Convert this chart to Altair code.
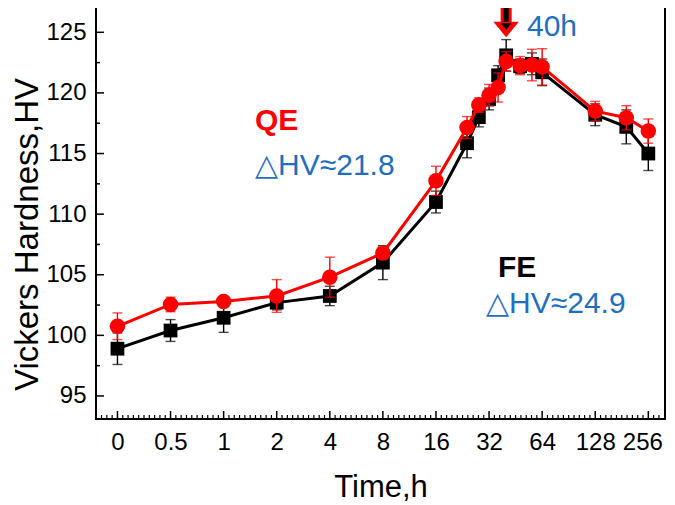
import altair as alt
import pandas as pd

# ---------------- data ----------------
time_h = [0, 0.5, 1, 2, 4, 8, 16, 24, 28, 32, 36, 40, 48, 56, 64, 128, 192, 256]
fe_hv = [98.9, 100.4, 101.45, 102.7, 103.25, 106.0, 111.0, 115.85, 118.0, 119.5,
         121.45, 123.1, 122.2, 122.4, 121.7, 118.2, 117.2, 115.0]
fe_err = [1.3, 0.9, 1.2, 0.6, 0.8, 1.4, 0.9, 1.2, 0.8, 0.9,
          0.8, 1.3, 0.6, 0.9, 1.1, 0.9, 1.4, 1.4]
qe_hv = [100.75, 102.55, 102.8, 103.25, 104.8, 106.8, 112.75, 117.15, 119.0, 119.8,
         120.45, 122.6, 122.25, 122.3, 122.15, 118.5, 117.95, 116.85]
qe_err = [1.1, 0.6, 0.3, 1.35, 1.65, 0.5, 1.2, 0.9, 0.6, 0.9,
          1.2, 0.8, 0.75, 1.3, 1.5, 0.8, 1.0, 1.0]

x_tick_labels = ['0', '0.5', '1', '2', '4', '8', '16', '32', '64', '128', '256']
y_major = [95, 100, 105, 110, 115, 120, 125]
y_minor = [97.5, 102.5, 107.5, 112.5, 117.5, 122.5]
peak_time = [40]

# ---------------- layout ----------------
W, H = 569, 417
FONT = "Liberation Sans, Arial, DejaVu Sans, sans-serif"
BLUE = "#1f6fc0"
RED = "#ff0000"

xscale = alt.Scale(domain=[-0.31, 10.22], nice=False, zero=False)
yscale = alt.Scale(domain=[93.1, 127.5], nice=False, zero=False)

last = len(x_tick_labels) - 1
label_expr = "[" + ",".join("'%s'" % s for s in x_tick_labels) + "][datum.value]"

x_axis = alt.Axis(values=list(range(len(x_tick_labels))), labelExpr=label_expr,
                  title="Time,h", ticks=False, tickSize=0, domain=False, grid=False,
                  labelFont=FONT, labelFontSize=24, labelColor="black",
                  labelPadding=30, labelBaseline="alphabetic", labelFlush=False,
                  labelOverlap=False,
                  labelOffset={"condition": {"test": "datum.value == %d" % last, "value": -6},
                               "value": 0},
                  titleFont=FONT, titleFontSize=31, titleFontWeight="normal",
                  titleColor="black", titleY=77, titleBaseline="alphabetic")
y_axis = alt.Axis(values=y_major, title="Vickers Hardness,HV", ticks=False, tickSize=0,
                  domain=False, grid=False,
                  labelFont=FONT, labelFontSize=24, labelColor="black", labelPadding=10,
                  labelFlush=False, labelOverlap=False,
                  titleFont=FONT, titleFontSize=33, titleFontWeight="normal",
                  titleColor="black", titleX=-59, titleY=232, titleAngle=270,
                  titleAlign="center", titleBaseline="alphabetic")


def X(field):
    return alt.X(field, type="quantitative", scale=xscale, axis=x_axis)


def Y(field):
    return alt.Y(field, type="quantitative", scale=yscale, axis=y_axis)


pos_expr = "datum.t > 0 ? log(datum.t) / log(2) + 2 : 0"

fe = pd.DataFrame({"t": time_h, "hv": fe_hv, "err": fe_err})
qe = pd.DataFrame({"t": time_h, "hv": qe_hv, "err": qe_err})


def series(df, color, shape, size):
    base = alt.Chart(df).transform_calculate(
        pos=pos_expr, lo="datum.hv - datum.err", hi="datum.hv + datum.err")
    line = base.mark_line(color=color, strokeWidth=3).encode(x=X("pos"), y=Y("hv"))
    err = base.mark_errorbar(ticks=True, size=10, thickness=1.4, color=color).encode(
        x=X("pos"), y=Y("lo"), y2=alt.Y2("hi"))
    pts = base.mark_point(filled=True, opacity=1, shape=shape, size=size,
                          color=color).encode(x=X("pos"), y=Y("hv"))
    return [line, err, pts]


# inward ticks
ymaj = alt.Chart(pd.DataFrame({"v": y_major})).mark_rule(color="black", strokeWidth=1.5).encode(
    y=Y("v"), x=alt.value(0), x2=alt.value(8))
ymin = alt.Chart(pd.DataFrame({"v": y_minor})).mark_rule(color="black", strokeWidth=1.5).encode(
    y=Y("v"), x=alt.value(0), x2=alt.value(4))
x_major_pos = list(range(len(x_tick_labels)))
x_minor_pos = [k / 10 for k in range(-3, 103) if k % 10 != 0]
xmaj = alt.Chart(pd.DataFrame({"p": x_major_pos})).mark_rule(color="black", strokeWidth=1.5).encode(
    x=X("p"), y=alt.value(H), y2=alt.value(H - 8))
xmin = alt.Chart(pd.DataFrame({"p": x_minor_pos})).mark_rule(color="black", strokeWidth=1.2).encode(
    x=X("p"), y=alt.value(H), y2=alt.value(H - 4))


def label(text, px, py, size, color, weight="normal"):
    return alt.Chart(pd.DataFrame({"s": [text]})).mark_text(
        align="left", baseline="alphabetic", font=FONT, fontSize=size,
        fontWeight=weight, color=color).encode(
        text="s:N", x=alt.value(px), y=alt.value(py))


labels = [
    label("QE", 159, 128, 30, RED, "bold"),
    label("\u25b3HV\u224821.8", 159, 173, 30, BLUE),
    label("FE", 402, 275, 30, "black", "bold"),
    label("\u25b3HV\u224824.9", 390, 311, 30, BLUE),
    label("40h", 431, 34, 30, BLUE),
]

# arrow marking the 40 h peak
arr = alt.Chart(pd.DataFrame({"t": peak_time})).transform_calculate(pos=pos_expr)
stem = arr.mark_bar(color=RED, size=11).encode(x=X("pos"), y=alt.value(4), y2=alt.value(21))
core = arr.mark_bar(color="black", size=5).encode(x=X("pos"), y=alt.value(5), y2=alt.value(22))
head = arr.mark_point(shape="M-1,-0.6L1,-0.6L0,0.6Z", size=650, filled=True, opacity=1,
                      color=RED).encode(x=X("pos"), y=alt.value(27.5))
head_core = arr.mark_point(shape="M-1,-0.6L1,-0.6L0,0.6Z", size=110, filled=True, opacity=1,
                           color="black").encode(x=X("pos"), y=alt.value(24.5))

layers = ([ymaj, ymin, xmaj, xmin]
          + series(fe, "black", "square", 190)
          + series(qe, RED, "circle", 240)
          + [stem, core, head, head_core] + labels)

chart = alt.layer(*layers).properties(
    width=W, height=H,
    autosize=alt.AutoSizeParams(type="none"),
    padding={"left": 88, "top": -6, "right": 2, "bottom": 86},
    background="white",
).configure_view(stroke="black", strokeWidth=2)

chart.save("out.html", embed_options={"renderer": "svg", "actions": False})
